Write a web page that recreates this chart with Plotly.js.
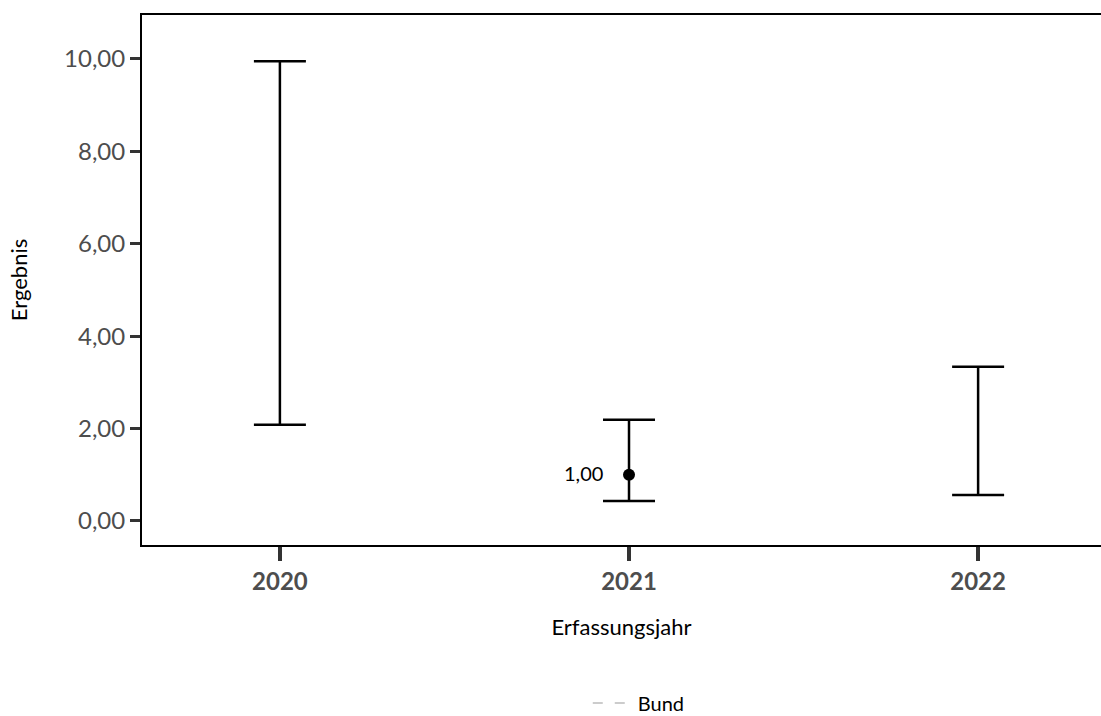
<!DOCTYPE html>
<html><head><meta charset="utf-8">
<script src="https://cdn.plot.ly/plotly-3.0.1.min.js"></script>
<style>body{margin:0;background:#fff}#c{width:1101px;height:716px}</style>
</head><body><div id="c"></div>
<script>
const years = [2020, 2021, 2022];
const ciLower = [2.08, 0.43, 0.56];
const ciUpper = [9.95, 2.19, 3.34];
const pointYears = [2021];
const pointValues = [1.00];
const pointLabels = ["1,00"];
const bundYears = [null];
const bundValues = [null];

const FONT = "Lato, 'Open Sans', sans-serif";

const traces = [
  {
    x: years, y: ciLower, type: 'scatter', mode: 'markers',
    marker: {opacity: 0, size: 1},
    error_y: {type: 'data', symmetric: false,
      array: ciUpper.map((u, i) => u - ciLower[i]),
      arrayminus: ciLower.map(() => 0),
      color: '#000', thickness: 2.5, width: 26},
    showlegend: false, hoverinfo: 'skip'
  },
  {
    x: pointYears, y: pointValues, type: 'scatter', mode: 'markers',
    marker: {color: '#000', size: 12},
    showlegend: false
  },
  {
    x: bundYears, y: bundValues, type: 'scatter', mode: 'lines', name: 'Bund',
    line: {color: '#cccccc', dash: '10px,12px', width: 2}, showlegend: true
  }
];

const annotations = pointYears.map((yr, i) => ({
  x: yr, y: pointValues[i], xref: 'x', yref: 'y', text: pointLabels[i],
  showarrow: false, xanchor: 'right', yanchor: 'middle', xshift: -24, yshift: 2,
  font: {family: FONT, size: 20, color: '#000'}
}));

const layout = {
  width: 1101, height: 716,
  margin: {l: 142, r: 0, t: 15, b: 171, autoexpand: false},
  paper_bgcolor: '#fff', plot_bgcolor: '#fff',
  font: {family: FONT},
  separators: ',.',
  annotations: annotations,
  xaxis: {
    range: [2019.605, 2022.352], tickvals: years, ticktext: years.map(String),
    showgrid: false, zeroline: false, automargin: false,
    showline: true, linecolor: '#000', linewidth: 2, mirror: true,
    ticks: 'outside', ticklen: 14, tickwidth: 4, tickcolor: '#333',
    tickfont: {family: FONT, size: 24, color: '#4d4d4d', weight: 'bold'},
    title: {text: 'Erfassungsjahr', font: {family: FONT, size: 22, color: '#000'}, standoff: 26}
  },
  yaxis: {
    range: [-0.52, 10.95], tickvals: [0, 2, 4, 6, 8, 10], tickformat: '.2f',
    showgrid: false, zeroline: false, automargin: false,
    showline: true, linecolor: '#000', linewidth: 2,
    ticks: 'outside', ticklen: 10, tickwidth: 3, tickcolor: '#333',
    tickfont: {family: FONT, size: 24, color: '#4d4d4d'},
    title: {text: 'Ergebnis', font: {family: FONT, size: 22, color: '#000'}, standoff: 30}
  },
  showlegend: true,
  legend: {orientation: 'h', x: 0.518, xanchor: 'center', y: -0.298, yanchor: 'middle',
    itemwidth: 40, font: {family: FONT, size: 20, color: '#000'}}
};

Plotly.newPlot('c', traces, layout, {displayModeBar: false, staticPlot: true});
</script></body></html>
